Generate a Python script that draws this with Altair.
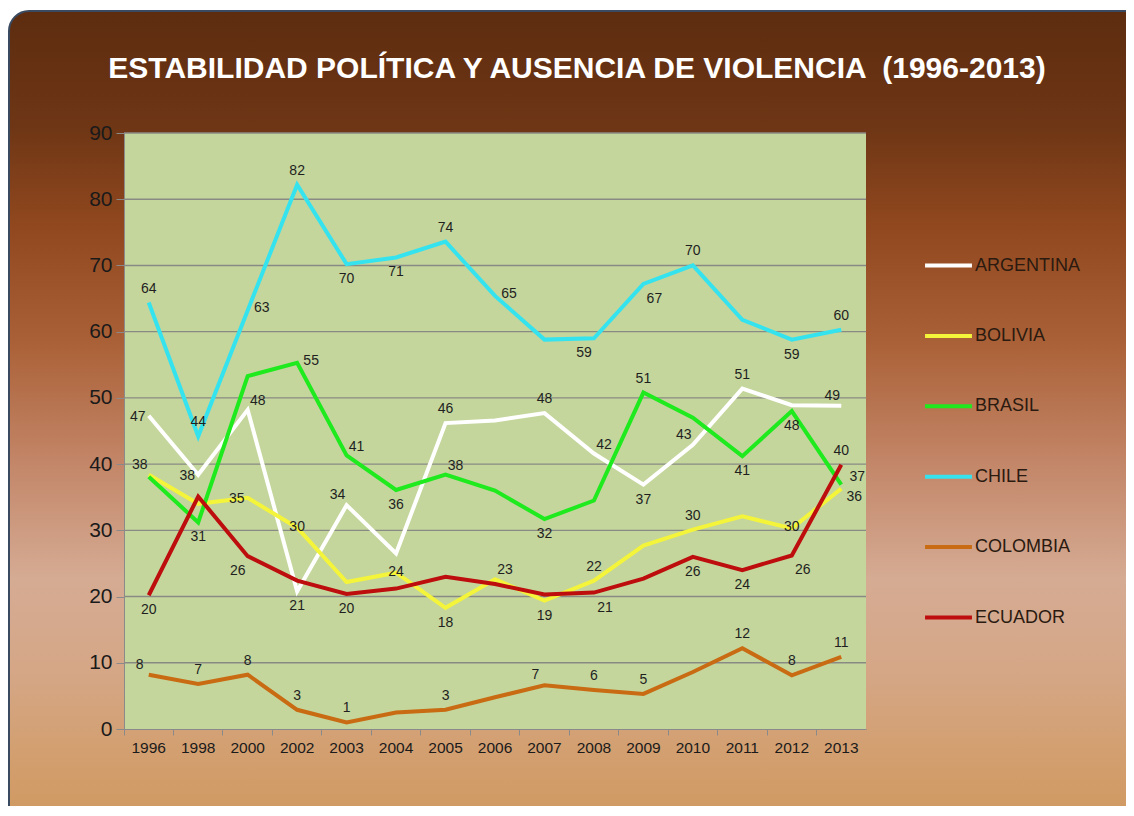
import altair as alt
import pandas as pd

years = ["1996", "1998", "2000", "2002", "2003", "2004", "2005", "2006",
         "2007", "2008", "2009", "2010", "2011", "2012", "2013"]
countries = ["ARGENTINA", "BOLIVIA", "BRASIL", "CHILE", "COLOMBIA", "ECUADOR"]
colors = ["#ffffff", "#f4f43a", "#1eea1e", "#35e3ef", "#c96b12", "#bd0d0d"]

argentina = [47.3, 38.4, 48.2, 20.8, 33.8, 26.5, 46.2, 46.6, 47.7, 41.6, 36.9, 42.9, 51.4, 48.9, 48.8]
bolivia = [38.4, 34.0, 34.9, 30.4, 22.2, 23.6, 18.3, 22.6, 19.4, 22.4, 27.7, 30.1, 32.1, 30.3, 36.3]
brasil = [38.1, 31.2, 53.3, 55.3, 41.3, 36.1, 38.4, 36.0, 31.7, 34.5, 50.8, 47.0, 41.2, 48.0, 36.9]
chile = [64.4, 44.2, 63.2, 82.2, 70.2, 71.2, 73.6, 65.4, 58.8, 59.0, 67.2, 70.0, 61.8, 58.8, 60.3]
colombia = [8.2, 6.8, 8.2, 2.9, 1.0, 2.5, 2.9, 4.8, 6.6, 5.9, 5.3, 8.6, 12.2, 8.1, 10.9]
ecuador = [20.2, 35.1, 26.1, 22.4, 20.4, 21.2, 23.0, 21.9, 20.3, 20.6, 22.7, 26.0, 24.0, 26.2, 39.9]

# where each data label sits relative to its point ("" = no label)
pos_argentina = ["L", "L", "TR", "B", "TL", "", "T", "", "T", "TR", "B", "TL", "T", "", "TL"]
pos_bolivia = ["TL", "", "L", "C", "", "C", "B", "TR", "B", "T", "", "T", "", "C", "RD"]
pos_brasil = ["", "B", "", "R", "TR", "B", "TR", "", "B", "", "T", "", "B", "B", "RU"]
pos_chile = ["T", "T", "R", "T", "B", "B", "T", "R", "", "BL", "BR", "T", "", "B", "T"]
pos_colombia = ["TL", "T", "T", "T", "T", "", "T", "", "TL", "T", "T", "", "T", "T", "T"]
pos_ecuador = ["B", "", "BL", "", "B", "", "", "", "", "BR", "", "B", "B", "BR", "T"]

y_ticks = [0, 10, 20, 30, 40, 50, 60, 70, 80, 90]
grid_vals = [10, 20, 30, 40, 50, 60, 70, 80, 90]
title_text = "ESTABILIDAD POLÍTICA Y AUSENCIA DE VIOLENCIA \u00a0(1996-2013)"

series = [argentina, bolivia, brasil, chile, colombia, ecuador]
positions = [pos_argentina, pos_bolivia, pos_brasil, pos_chile, pos_colombia, pos_ecuador]
rows = []
for c, vals, ps in zip(countries, series, positions):
    for yr, v, p in zip(years, vals, ps):
        rows.append({"year": yr, "country": c, "value": v, "pos": p})
df = pd.DataFrame(rows)

W, H = 742, 596
FONT = "Liberation Sans"

X_ENC = alt.X("year:O", sort=years,
              scale=alt.Scale(type="band", paddingInner=0, paddingOuter=0),
              axis=alt.Axis(title=None, labelAngle=0, labelFontSize=15.5, labelFont=FONT,
                            labelColor="#1a1a1a", domainColor="#8a8a8a", tickColor="#8a8a8a",
                            tickSize=6, labelPadding=5, bandPosition=0, grid=False, zindex=1))
Y_ENC = alt.Y("value:Q", scale=alt.Scale(domain=[0, 90], nice=False, zero=True),
              axis=alt.Axis(title=None, values=y_ticks, labelFontSize=21, labelFont=FONT,
                            labelColor="#1a1a1a", domainColor="#8a8a8a", tickColor="#8a8a8a",
                            tickSize=8, labelPadding=4, grid=False, zindex=1))

one = pd.DataFrame({"k": [0]})

bg = alt.Chart(one).mark_rect(
    cornerRadius=20, stroke="#3a4a60", strokeWidth=2,
    fill=alt.LinearGradient(
        gradient="linear", x1=0, x2=0, y1=0, y2=1,
        stops=[
            alt.GradientStop(color="#5d2c0f", offset=0.0),
            alt.GradientStop(color="#6e3615", offset=0.14),
            alt.GradientStop(color="#93491f", offset=0.27),
            alt.GradientStop(color="#aa6036", offset=0.40),
            alt.GradientStop(color="#c38668", offset=0.55),
            alt.GradientStop(color="#d5ab93", offset=0.69),
            alt.GradientStop(color="#d5a787", offset=0.80),
            alt.GradientStop(color="#d29d6a", offset=0.93),
            alt.GradientStop(color="#cf985f", offset=1.0),
        ])
).encode(x=alt.value(-115), x2=alt.value(1030), y=alt.value(-122), y2=alt.value(700))

title = alt.Chart(pd.DataFrame({"t": [title_text]})).mark_text(
    font=FONT, fontSize=30, fontWeight="bold", color="white",
    align="center", baseline="alphabetic"
).encode(x=alt.value(453), y=alt.value(-55), text="t:N")

plotbg = alt.Chart(one).mark_rect(color="#c4d69c").encode(
    x=alt.value(0), x2=alt.value(W), y=alt.value(0), y2=alt.value(H))

grid = alt.Chart(pd.DataFrame({"value": grid_vals})).mark_rule(
    color="#8a8a84", strokeWidth=1.4).encode(y=Y_ENC)

lines = alt.Chart(df).mark_line(strokeWidth=4, strokeJoin="miter").encode(
    x=X_ENC, y=Y_ENC,
    color=alt.Color("country:N",
                    scale=alt.Scale(domain=countries, range=colors),
                    legend=alt.Legend(orient="none", legendX=799, legendY=107, title=None,
                                      symbolType="stroke", symbolSize=2200,
                                      symbolStrokeWidth=4, labelFontSize=18, labelFont=FONT,
                                      labelColor="#2a1a10", rowPadding=35.4, labelOffset=1,
                                      padding=0)))

OFF = {"T": (0, -14), "B": (0, 15), "L": (-11, 1), "R": (14, -2), "TL": (-9, -10),
       "TR": (10, -9), "BL": (-10, 15), "BR": (11, 15), "C": (0, -1),
       "RU": (16, -8), "RD": (13, 8)}

texts = []
for code, (dx, dy) in OFF.items():
    texts.append(
        alt.Chart(df).transform_filter(alt.datum.pos == code).mark_text(
            dx=dx, dy=dy, fontSize=14, font=FONT, color="#1f1f1f",
            align="center", baseline="middle"
        ).encode(x=X_ENC, y=Y_ENC, text=alt.Text("value:Q", format=".0f"))
    )

chart = alt.layer(bg, title, plotbg, grid, lines, *texts).properties(
    width=W, height=H,
    autosize=alt.AutoSizeParams(type="none"),
    padding={"left": 116, "top": 125, "right": 260, "bottom": 77},
).configure_view(stroke=None).configure(background="white")

chart.save("out.html", embed_options={"renderer": "svg", "actions": False})
